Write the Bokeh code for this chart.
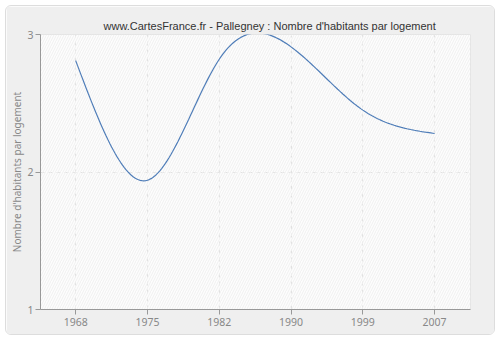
import numpy as np
from bokeh.plotting import figure
from bokeh.models import FixedTicker, Range1d, BoxAnnotation, Title
from bokeh.embed import file_html
from bokeh.resources import INLINE

years = ["1968", "1975", "1982", "1990", "1999", "2007"]
values = [2.81, 1.94, 2.82, 2.91, 2.45, 2.28]
y_ticks = [1, 2, 3]


def natural_spline(y, n=40):
    y = np.asarray(y, float)
    k = len(y)
    x = np.arange(k, dtype=float)
    A = np.zeros((k, k))
    b = np.zeros(k)
    A[0, 0] = 1
    A[-1, -1] = 1
    for i in range(1, k - 1):
        A[i, i - 1] = 1
        A[i, i] = 4
        A[i, i + 1] = 1
        b[i] = 6 * (y[i + 1] - 2 * y[i] + y[i - 1])
    M = np.linalg.solve(A, b)
    xs, ys = [], []
    for i in range(k - 1):
        t = np.linspace(0, 1, n, endpoint=(i == k - 2))
        a = y[i]
        bb = (y[i + 1] - y[i]) - (2 * M[i] + M[i + 1]) / 6
        c = M[i] / 2
        d = (M[i + 1] - M[i]) / 6
        xs.extend(x[i] + t)
        ys.extend(a + bb * t + c * t**2 + d * t**3)
    return xs, ys


sx, sy = natural_spline(values)

p = figure(width=490, height=330, output_backend="svg", toolbar_location=None,
           x_range=Range1d(-0.49, 5.5), y_range=Range1d(1, 3),
           min_border_left=34, min_border_right=26, min_border_top=28, min_border_bottom=27)
p.border_fill_color = "#efefef"
p.background_fill_color = "#fdfdfd"
p.outline_line_color = "#e4e4e4"
p.styles = {"border": "1px solid #dddddd", "border-radius": "6px", "overflow": "hidden",
            "margin-left": "5px", "margin-top": "5px"}

p.add_layout(BoxAnnotation(fill_color=None, line_color=None,
                           hatch_pattern="right_diagonal_line", hatch_color="#f0f0f0",
                           hatch_scale=5, hatch_weight=1, level="underlay"))

p.title = Title(text="www.CartesFrance.fr - Pallegney : Nombre d'habitants par logement",
                align="left", offset=63, text_font="Liberation Sans", text_font_size="11px",
                text_font_style="normal", text_color="#333333", standoff=5)

p.line(sx, sy, line_color="#4f7db8", line_width=1.2)

p.xaxis.ticker = FixedTicker(ticks=list(range(len(years))))
p.xaxis.major_label_overrides = {i: y for i, y in enumerate(years)}
p.yaxis.ticker = FixedTicker(ticks=y_ticks)
p.yaxis.axis_label = "Nombre d'habitants par logement"
p.yaxis.axis_label_text_font_size = "10px"
p.yaxis.axis_label_text_font_style = "normal"
p.yaxis.axis_label_text_color = "#888888"
p.yaxis.axis_label_text_font = "Noto Sans"
p.yaxis.axis_label_standoff = 0
for ax in (p.xaxis, p.yaxis):
    ax.axis_line_color = "#999999"
    ax.major_tick_line_color = "#999999"
    ax.major_tick_out = 5
    ax.major_tick_in = 0
    ax.minor_tick_line_color = None
    ax.major_label_text_color = "#888888"
    ax.major_label_text_font = "Noto Sans"
    ax.major_label_text_font_size = "10.5px"
    ax.major_label_standoff = 3
p.yaxis.major_label_standoff = 2

p.grid.grid_line_color = "#e2e2e2"
p.grid.grid_line_dash = "4 4"
p.grid.grid_line_width = 1

open("out.html", "w").write(file_html(p, INLINE))
